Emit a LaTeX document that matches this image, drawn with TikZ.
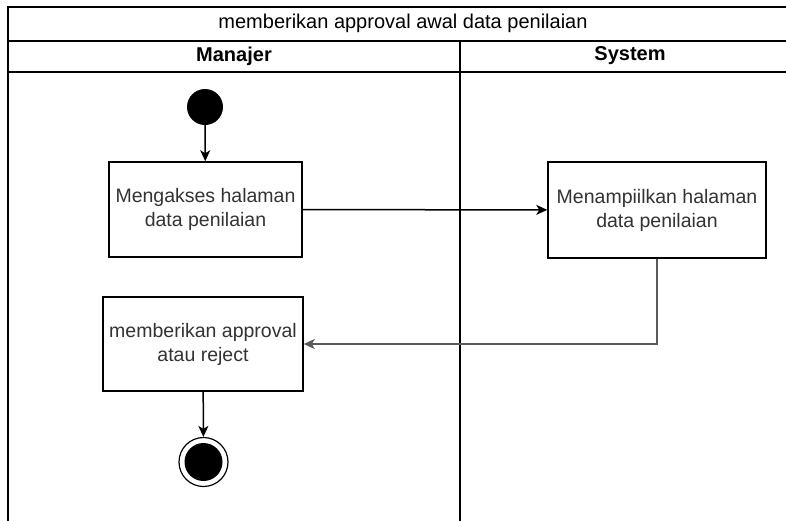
\documentclass[tikz,border=0pt]{standalone}
\usepackage{fontspec}
\setmainfont{Liberation Sans}
\usetikzlibrary{arrows.meta}
\definecolor{txtgray}{HTML}{333333}
\definecolor{flowgray}{HTML}{5A5A5A}
\begin{document}
\begin{tikzpicture}[x=1pt,y=-1pt,
  frame/.style={line width=2pt,black},
  lanetitle/.style={font=\fontsize{20}{24}\selectfont,text=black},
  lanehead/.style={font=\bfseries\fontsize{20}{24}\selectfont,text=black},
  action/.style={draw=black,line width=1.5pt,fill=white,align=center,
    text=txtgray,font=\fontsize{19.5}{24}\selectfont,inner sep=0pt},
  flow/.style={line width=1.5pt,-{Stealth[length=11pt,width=10pt,inset=3pt]}},
  startdot/.style={circle,fill=black,minimum size=36pt,inner sep=0pt},
  enddot/.style={circle,draw=black,line width=1.2pt,fill=white,minimum size=49pt,inner sep=0pt}]
\useasboundingbox (0,0) rectangle (786,520);
\begin{scope}
\clip (0,0) rectangle (786,520);
% swimlane frame
\draw[frame] (8,530) -- (8,7) -- (800,7) -- (800,530);
\draw[frame] (8,40.5) -- (800,40.5);
\draw[frame] (8,71.5) -- (800,71.5);
\draw[frame] (460,40.5) -- (460,530);
\end{scope}
\node[lanetitle] (title) at (403,23.5) {memberikan approval awal data penilaian};
\node[lanehead] (lanem) at (234,56) {Manajer};
\node[lanehead] (lanes) at (630,56) {System};

% activity nodes
\node[startdot] (start) at (205,107) {};
\node[action,minimum width=193pt,minimum height=95pt] (akses) at (205.5,209.5)
  {Mengakses halaman\\data penilaian};
\node[action,minimum width=218pt,minimum height=96pt] (tampil) at (657,210)
  {Menampiilkan halaman\\data penilaian};
\node[action,minimum width=200pt,minimum height=94pt] (approve) at (203,344)
  {memberikan approval\\atau reject};
\node[enddot] (stop) at (203.5,462) {};
\node[circle,fill=black,minimum size=38pt,inner sep=0pt] (stopcore) at (stop.center) {};

% control flow
\draw[flow] (start) -- (akses);
\draw[flow] (akses) -- (tampil);
\draw[flow,draw=flowgray] (tampil.south) |- (approve.east);
\draw[flow] (approve) -- (stop);
\end{tikzpicture}
\end{document}
